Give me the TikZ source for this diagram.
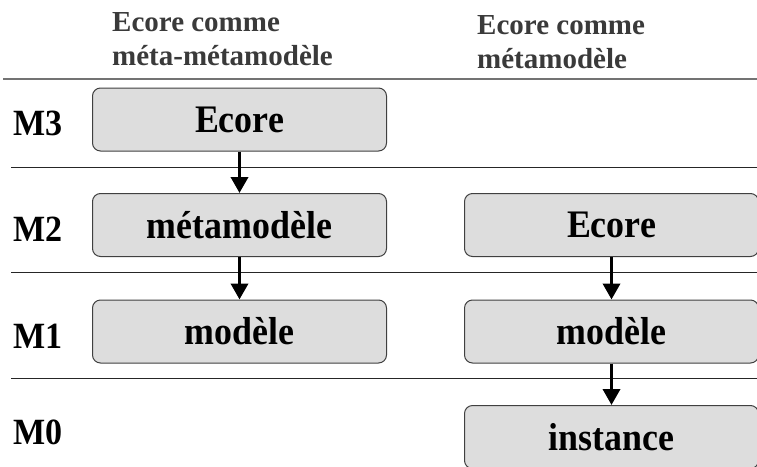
\documentclass[tikz,border=0pt]{standalone}
\usepackage{fontspec}
\setmainfont{Liberation Serif}
\newfontfamily\boxfont[FakeStretch=0.92]{Liberation Serif}
\usetikzlibrary{arrows.meta,positioning}
\definecolor{boxgray}{HTML}{DDDDDD}
\definecolor{headgray}{HTML}{3A3A3A}

\begin{document}
\begin{tikzpicture}[
		x=1pt,
		y=-1pt,
		>=Latex,
		line cap=butt,
		line join=round,
		level/.style={font=\boxfont\fontsize{37}{42}\selectfont\bfseries,anchor=west,inner sep=0pt},
		header/.style={font=\fontsize{29}{34}\selectfont\bfseries,text=headgray,anchor=north west,align=left,inner sep=0pt},
		layerbox/.style={draw=black!75,fill=boxgray,rounded corners=8pt,line width=1pt,minimum width=294pt,minimum height=63pt,inner sep=0pt,font=\boxfont\fontsize{39}{44}\selectfont\bfseries},
		topsep/.style={draw=black!55,line width=2.2pt},
		levelsep/.style={draw=black!85,line width=1pt},
		flow/.style={-{Triangle[length=16pt,width=17pt]},line width=3.6pt}
	]
	
	% Page size
	\useasboundingbox (0,0) rectangle (757,466);
	
	% Column titles
	\node[header] (headL) at (112,12) {Ecore comme\\méta-métamodèle};
	\node[header] (headR) at (477,15) {Ecore comme\\métamodèle};
	
	% Level separators
	\draw[topsep] (3,79) -- (757,79);
	\draw[levelsep] (11,167) -- (757,167);
	\draw[levelsep] (11,272) -- (757,272);
	\draw[levelsep] (11,378) -- (757,378);
	
	% Level labels
	\node[level] (m3) at (13,123) {M3};
	\node[level] (m2) at (13,229) {M2};
	\node[level] (m1) at (13,336) {M1};
	\node[level] (m0) at (13,432) {M0};
	
	% Left column: Ecore as meta-metamodel
	\node[layerbox] (ecoreL) at (239.5,119.5) {Ecore};
	\node[layerbox] (metaL)  at (239.5,225)   {métamodèle};
	\node[layerbox] (modelL) at (239.5,331.5) {modèle};
	
	% Right column: Ecore as metamodel
	\node[layerbox] (ecoreR) at (611.5,225)   {Ecore};
	\node[layerbox] (modelR) at (611.5,331.5) {modèle};
	\node[layerbox] (instR)  at (611.5,437)   {instance};
	
	% Conformance arrows
	\draw[flow] (ecoreL.south) -- (metaL.north);
	\draw[flow] (metaL.south) -- (modelL.north);
	\draw[flow] (ecoreR.south) -- (modelR.north);
	\draw[flow] (modelR.south) -- (instR.north);
	
\end{tikzpicture}
\end{document}
